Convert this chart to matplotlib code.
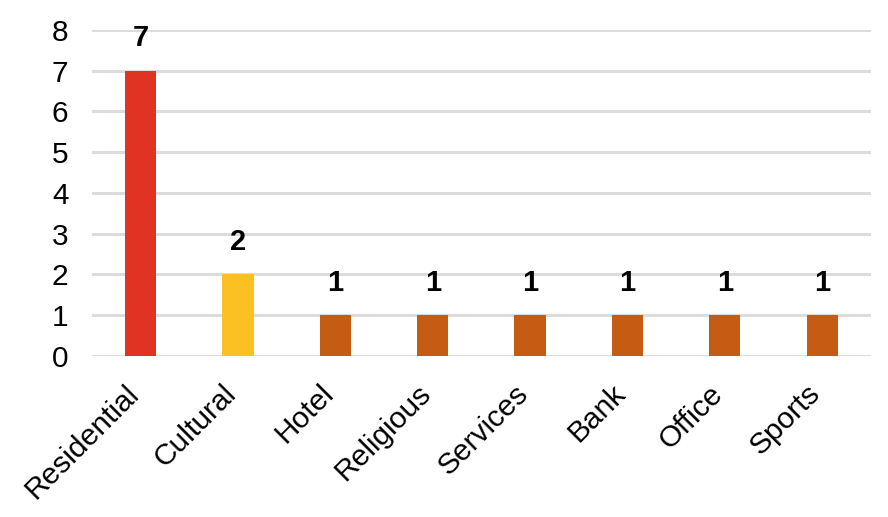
import matplotlib.pyplot as plt
import matplotlib.transforms as mtransforms
import numpy as np

plt.rcParams['font.family'] = ['Liberation Sans', 'DejaVu Sans']

categories = ["Residential", "Cultural", "Hotel", "Religious", "Services", "Bank", "Office", "Sports"]
counts = [7, 2, 1, 1, 1, 1, 1, 1]
colors = ["#e03323", "#fbc021", "#c55c13", "#c55c13", "#c55c13", "#c55c13", "#c55c13", "#c55c13"]

fig = plt.figure(figsize=(8.88, 5.17), dpi=100)
ax = fig.add_axes([0.1036, 0.3114, 0.877, 0.631])

x = np.arange(len(categories))
ax.bar(x, counts, width=0.32, color=colors, zorder=3)

for xi, c in zip(x, counts):
    ax.text(xi, c + 0.45, str(c), ha='center', va='bottom', fontsize=21, fontweight='bold')

ax.set_xlim(-0.5, len(categories) - 0.5)
ax.set_ylim(0, 8)
ax.set_yticks(range(0, 9))
ax.yaxis.grid(True, color='#dcdcdc', linewidth=2.2, zorder=0)
ax.set_axisbelow(True)

ax.set_xticks(x)
ax.set_xticklabels(categories, rotation=45, ha='right', va='center', rotation_mode='anchor', fontsize=21.5)
ax.tick_params(axis='both', length=0)
ax.tick_params(axis='y', labelsize=21.5, pad=17)
ax.tick_params(axis='x', pad=24)

# nudge the slanted labels a bit to the left
shift = mtransforms.ScaledTranslation(-6 / 100, 0, fig.dpi_scale_trans)
for lbl in ax.get_xticklabels():
    lbl.set_transform(lbl.get_transform() + shift)

for s in ax.spines.values():
    s.set_visible(False)

fig.savefig("out.png", dpi=100)
